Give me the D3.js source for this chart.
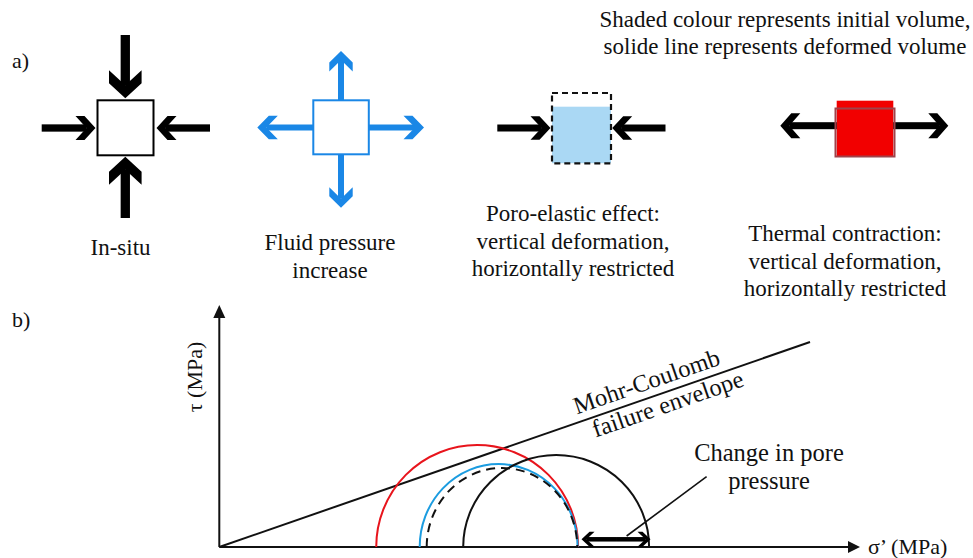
<!DOCTYPE html>
<html>
<head>
<meta charset="utf-8">
<script src="https://cdn.jsdelivr.net/npm/d3@7"></script>
<style>
  html, body { margin: 0; padding: 0; background: #fff; }
  svg { display: block; }
</style>
</head>
<body>
<script>
// ---------- data ----------
const panelLabels = ["a)", "b)"];
const noteLines = ["Shaded colour represents initial volume,", "solide line represents deformed volume"];
const caseCaptions = [
  ["In-situ"],
  ["Fluid pressure", "increase"],
  ["Poro-elastic effect:", "vertical deformation,", "horizontally restricted"],
  ["Thermal contraction:", "vertical deformation,", "horizontally restricted"]
];
// Mohr circles (σ' and τ in diagram units)
const circleNames   = ["thermal", "fluid", "poro", "insitu"];
const circleCentre  = [258, 279.5, 282.8, 337];
const circleRadiusX = [101, 79, 75.3, 93];
const circleRadiusY = [102, 83, 79, 92];
// Mohr-Coulomb failure envelope
const envelopeSigma = [0, 591];
const envelopeTau   = [0, 205];
// change in pore pressure arrow and leader
const poreArrowSigma = [362.4, 431.4];
const poreArrowTau   = 7.7;
const leaderSigma = [407.5, 487.5];
const leaderTau   = [11, 70.3];
const axisLabels = ["σ’ (MPa)", "τ (MPa)"];
const envelopeLabels = ["Mohr-Coulomb", "failure envelope"];
const poreLabels = ["Change in pore", "pressure"];

// ---------- styles ----------
const FONT = "'Liberation Serif', 'Times New Roman', Times, 'DejaVu Serif', serif";
const circleStyle = {
  thermal: { stroke: "#e8141c", dash: null },
  fluid:   { stroke: "#1b9ce0", dash: null },
  poro:    { stroke: "#111", dash: "9,6" },
  insitu:  { stroke: "#111", dash: null }
};
const BLUE = "#1a87e6";

const W = 973, H = 558;
const svg = d3.select("body").append("svg").attr("width", W).attr("height", H)
  .attr("font-family", FONT).style("font-family", FONT);
svg.append("rect").attr("width", W).attr("height", H).attr("fill", "#fff");

function txt(g) {
  return g.append("text").attr("font-family", FONT).style("font-family", FONT).attr("fill", "#111");
}

function arrow(g, x1, y1, x2, y2, o) {
  const L = Math.hypot(x2 - x1, y2 - y1);
  const ang = Math.atan2(y2 - y1, x2 - x1) * 180 / Math.PI;
  const a = g.append("g").attr("transform", `translate(${x1},${y1}) rotate(${ang})`).attr("fill", o.color);
  a.append("rect").attr("x", 0).attr("y", -o.w / 2).attr("width", L - o.t).attr("height", o.w);
  a.append("path").attr("d",
    `M${L},0 L${L - o.hl},${-o.hw} L${L - o.hl - o.t},${-o.hw} L${L - o.t},0 L${L - o.hl - o.t},${o.hw} L${L - o.hl},${o.hw} Z`);
}

// ---------- panel labels ----------
txt(svg).attr("x", 12).attr("y", 68).attr("font-size", 22).text(panelLabels[0]);
txt(svg).attr("x", 12).attr("y", 327).attr("font-size", 22).text(panelLabels[1]);

// note
noteLines.forEach((t, i) => {
  txt(svg).attr("x", 785).attr("y", 27 + i * 27).attr("text-anchor", "middle")
    .attr("font-size", 23).text(t);
});

// ---------- part a ----------
const ga = svg.append("g");
// In-situ
const vBig = { color: "#000", w: 9.3, hw: 16.3, hl: 15, t: 13 };
const hBig = { color: "#000", w: 7.3, hw: 12, hl: 11, t: 9 };
arrow(ga, 125.3, 35, 125.3, 98.3, vBig);
arrow(ga, 125.3, 218, 125.3, 156.7, vBig);
arrow(ga, 41.7, 128, 95.5, 128, hBig);
arrow(ga, 210, 128, 156.5, 128, hBig);
ga.append("rect").attr("x", 97.5).attr("y", 100.3).attr("width", 56).attr("height", 55)
  .attr("fill", "#fff").attr("stroke", "#000").attr("stroke-width", 2);

// Fluid pressure
const fl = { color: BLUE, w: 6, hw: 11.7, hl: 11.5, t: 9 };
arrow(ga, 341, 100, 341, 51, fl);
arrow(ga, 341, 155, 341, 207.7, fl);
arrow(ga, 313, 127.5, 257.3, 127.5, fl);
arrow(ga, 369, 127.5, 424, 127.5, fl);
ga.append("rect").attr("x", 313.3).attr("y", 100.3).attr("width", 55.5).attr("height", 54)
  .attr("fill", "#fff").attr("stroke", BLUE).attr("stroke-width", 2);

// Poro-elastic
const po = { color: "#000", w: 7, hw: 11.7, hl: 11, t: 9 };
ga.append("rect").attr("x", 552).attr("y", 106.7).attr("width", 59).attr("height", 56.5).attr("fill", "#aad8f4");
ga.append("rect").attr("x", 552).attr("y", 93).attr("width", 59).attr("height", 70.3)
  .attr("fill", "none").attr("stroke", "#111").attr("stroke-width", 2.2).attr("stroke-dasharray", "6,4");
arrow(ga, 497.3, 128, 550.5, 128, po);
arrow(ga, 665.5, 128, 612.2, 128, po);

// Thermal
const th = { color: "#000", w: 7, hw: 12.5, hl: 11, t: 9 };
arrow(ga, 865, 125.7, 780.3, 125.7, th);
arrow(ga, 865, 125.7, 948.3, 125.7, th);
ga.append("rect").attr("x", 836.7).attr("y", 100.7).attr("width", 56.6).attr("height", 55.5).attr("fill", "#f20000");
ga.append("rect").attr("x", 835.5).attr("y", 108.5).attr("width", 59).attr("height", 48)
  .attr("fill", "none").attr("stroke", "#a0424a").attr("stroke-width", 2);

// captions
const capX = [120.5, 330, 573, 845];
const capY = [255, 250, 221, 241];
caseCaptions.forEach((lines, k) => {
  lines.forEach((t, i) => {
    txt(ga).attr("x", capX[k]).attr("y", capY[k] + i * 27.5)
      .attr("text-anchor", "middle").attr("font-size", 23).text(t);
  });
});

// ---------- part b ----------
const x = d3.scaleLinear().domain([0, 641]).range([219.3, 860]);
const y = d3.scaleLinear().domain([0, 242]).range([547, 305]);
const gb = svg.append("g");

// axes
gb.append("line").attr("x1", x(0)).attr("y1", y(0)).attr("x2", x(0)).attr("y2", y(242) + 10)
  .attr("stroke", "#111").attr("stroke-width", 2);
gb.append("line").attr("x1", x(0)).attr("y1", y(0)).attr("x2", x(641) - 10).attr("y2", y(0))
  .attr("stroke", "#111").attr("stroke-width", 2);
gb.append("path").attr("d", `M${x(0)},${y(242)} L${x(0) - 6},${y(242) + 13} L${x(0) + 6},${y(242) + 13} Z`).attr("fill", "#111");
gb.append("path").attr("d", `M${x(641)},${y(0)} L${x(641) - 12},${y(0) - 6} L${x(641) - 12},${y(0) + 6} Z`).attr("fill", "#111");

// envelope
gb.append("line").attr("x1", x(envelopeSigma[0])).attr("y1", y(envelopeTau[0]))
  .attr("x2", x(envelopeSigma[1])).attr("y2", y(envelopeTau[1]))
  .attr("stroke", "#111").attr("stroke-width", 2);

// circles
circleNames.forEach((n, i) => {
  const x0 = x(circleCentre[i] - circleRadiusX[i]);
  const x1 = x(circleCentre[i] + circleRadiusX[i]);
  const rx = (x1 - x0) / 2;
  const ry = y(0) - y(circleRadiusY[i]);
  const p = gb.append("path")
    .attr("d", `M${x0},${y(0)} A${rx},${ry} 0 0 1 ${x1},${y(0)}`)
    .attr("fill", "none").attr("stroke", circleStyle[n].stroke).attr("stroke-width", 2);
  if (circleStyle[n].dash) p.attr("stroke-dasharray", circleStyle[n].dash);
});

// pore pressure arrow
const pa = { color: "#000", w: 4.5, hw: 7.5, hl: 8, t: 5 };
const pm = (x(poreArrowSigma[0]) + x(poreArrowSigma[1])) / 2;
arrow(gb, pm, y(poreArrowTau), x(poreArrowSigma[0]), y(poreArrowTau), pa);
arrow(gb, pm, y(poreArrowTau), x(poreArrowSigma[1]), y(poreArrowTau), pa);
gb.append("line").attr("x1", x(leaderSigma[0])).attr("y1", y(leaderTau[0]))
  .attr("x2", x(leaderSigma[1])).attr("y2", y(leaderTau[1]))
  .attr("stroke", "#111").attr("stroke-width", 1.6);

// labels
txt(gb).attr("x", 868).attr("y", 554).attr("font-size", 22).text(axisLabels[0]);
txt(gb).attr("transform", "translate(202,377) rotate(-90)").attr("text-anchor", "middle")
  .attr("font-size", 22).text(axisLabels[1]);

poreLabels.forEach((t, i) => {
  txt(gb).attr("x", 769).attr("y", 461 + i * 28).attr("text-anchor", "middle")
    .attr("font-size", 24.5).text(t);
});

const angle = Math.atan2(y(envelopeTau[0]) - y(envelopeTau[1]), x(envelopeSigma[1]) - x(envelopeSigma[0])) * 180 / Math.PI;
const slope = (envelopeTau[1] - envelopeTau[0]) / (envelopeSigma[1] - envelopeSigma[0]);
const s1 = 652 - 219.3, s2 = 664 - 219.3;
txt(gb).attr("transform", `translate(${x(s1)},${y(s1 * slope)}) rotate(${-angle})`)
  .attr("y", -8).attr("text-anchor", "middle").attr("font-size", 24.5).text(envelopeLabels[0]);
txt(gb).attr("transform", `translate(${x(s2)},${y(s2 * slope)}) rotate(${-angle})`)
  .attr("y", 20).attr("text-anchor", "middle").attr("font-size", 24.5).text(envelopeLabels[1]);
</script>
</body>
</html>
